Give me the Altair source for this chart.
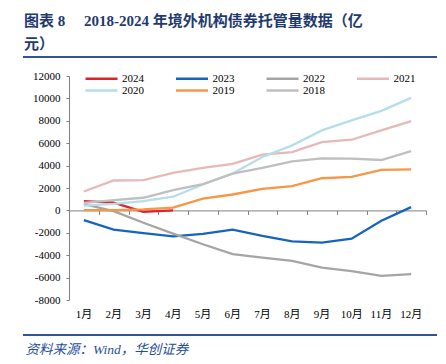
import altair as alt
import pandas as pd

months = ["1月", "2月", "3月", "4月", "5月", "6月", "7月", "8月", "9月", "10月", "11月", "12月"]
years = ["2024", "2023", "2022", "2021", "2020", "2019", "2018"]
colors = ["#E3202A", "#1565C0", "#A5A5A5", "#E6B8B7", "#B4DEEA", "#F79646", "#BFBFBF"]
y_ticks = [-8000, -6000, -4000, -2000, 0, 2000, 4000, 6000, 8000, 10000, 12000]

v2024 = [820, 700, -130, 0]
v2023 = [-860, -1720, -2020, -2310, -2100, -1720, -2280, -2760, -2870, -2520, -920, 290]
v2022 = [560, -60, -1100, -2070, -3020, -3910, -4210, -4500, -5100, -5420, -5840, -5690]
v2021 = [1690, 2670, 2700, 3350, 3790, 4150, 4980, 5210, 6100, 6310, 7140, 7970]
v2020 = [420, 590, 830, 1220, 2310, 3290, 4770, 5810, 7140, 8030, 8890, 10050]
v2019 = [30, 30, 90, 240, 1050, 1420, 1930, 2160, 2870, 2990, 3610, 3670]
v2018 = [680, 920, 1130, 1800, 2350, 3290, 3790, 4380, 4650, 4620, 4500, 5300]

series = [v2024, v2023, v2022, v2021, v2020, v2019, v2018]
rows = []
for yr, vals in zip(years, series):
    for i, v in enumerate(vals):
        rows.append({"month": months[i], "mi": i, "year": yr, "value": v})
df = pd.DataFrame(rows)

W, H = 357, 224
SERIF = "'Liberation Serif', 'Noto Sans CJK SC'"
AXC = "#808080"

xscale = alt.Scale(type="band", paddingInner=0, paddingOuter=0)
yscale = alt.Scale(domain=[-8000, 12000], nice=False, zero=False)
yaxis = alt.Axis(values=y_ticks, grid=False, domain=True,
                 domainColor=AXC, ticks=True, tickColor=AXC, tickSize=3,
                 labelExpr="'' + datum.value", labelOverlap=False,
                 labelPadding=6, labelFont=SERIF, labelFontSize=11, labelColor="#000000",
                 title=None)

lines = alt.Chart(df).mark_line(strokeWidth=2.3).encode(
    x=alt.X("month:N", sort=months, scale=xscale, bandPosition=0.5,
            axis=alt.Axis(orient="bottom", domain=False, ticks=False, grid=False,
                          labelPadding=8, labelAngle=0, labelFont=SERIF, labelFontSize=11,
                          labelColor="#000000",
                          title="资料来源：Wind，华创证券", titleFont=SERIF, titleFontSize=13.5,
                          titleFontStyle="italic", titleFontWeight="normal", titleColor="#1F4E9A",
                          titleAlign="left", titleBaseline="middle", titleX=-44, titleY=49)),
    y=alt.Y("value:Q", scale=yscale, axis=yaxis),
    color=alt.Color("year:N", sort=years, scale=alt.Scale(domain=years, range=colors),
                    legend=alt.Legend(orient="none", legendX=26, legendY=-4, direction="horizontal",
                                      columns=4, symbolType="M-3.2,0H3.2", symbolSize=100,
                                      symbolStrokeWidth=2.5, labelFont=SERIF, labelFontSize=11,
                                      labelColor="#000000", labelOffset=14, columnPadding=26.5,
                                      rowPadding=0, title=None)),
    order=alt.Order("mi:Q"),
)

zero_axis = alt.Chart(df).mark_line(opacity=0).encode(
    x=alt.X("month:N", sort=months, scale=xscale, bandPosition=0.5,
            axis=alt.Axis(orient="bottom", offset=-89.6, labels=False, domain=True,
                          domainColor=AXC, ticks=True, tickColor=AXC, tickSize=4,
                          tickBand="extent", grid=False, title=None)),
    y=alt.Y("value:Q", scale=yscale, axis=yaxis),
    detail="year:N",
    order=alt.Order("mi:Q"),
)

rule_top = alt.Chart(df).mark_rule(color="#2F5597", strokeWidth=2).encode(
    x=alt.value(-46), x2=alt.value(368), y=alt.value(-19))
rule_bot = alt.Chart(df).mark_rule(color="#2F5597", strokeWidth=2).encode(
    x=alt.value(-46), x2=alt.value(368), y=alt.value(259))

chart = alt.layer(zero_axis, lines, rule_top, rule_bot).resolve_axis(x="independent").properties(
    width=W, height=H,
    autosize=alt.AutoSizeParams(type="none"),
    padding={"left": 61, "top": 68, "right": 12, "bottom": 56},
    title=alt.TitleParams(
        text=["图表 8\u2003 2018-2024 年境外机构债券托管量数据（亿", "元）"],
        anchor="start", frame="group", dx=-45, offset=4, lineHeight=23,
        font=SERIF, fontSize=15, fontWeight="bold", color="#1F3A6E"),
).configure_view(stroke=None)

chart.save("out.html", embed_options={"renderer": "svg", "actions": False})
